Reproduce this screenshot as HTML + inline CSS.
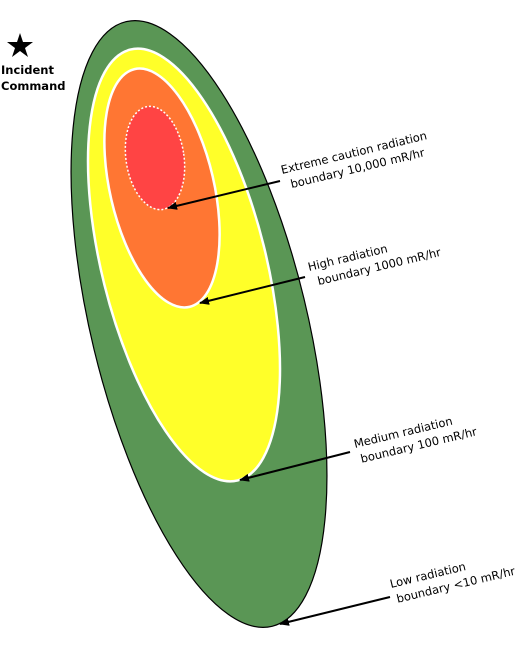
<!DOCTYPE html>
<html><head><meta charset="utf-8"><style>
html,body{margin:0;padding:0;background:#fff;}
svg{display:block;font-family:"DejaVu Sans","Liberation Sans",sans-serif;}
</style></head><body>
<svg width="521" height="650" viewBox="0 0 521 650">
<defs><marker id="ah" markerWidth="10" markerHeight="8" refX="9" refY="4" orient="auto" markerUnits="userSpaceOnUse"><path d="M0,0 L10,4 L0,8 Z" fill="#000"/></marker></defs>
<ellipse cx="199" cy="324" rx="108" ry="311" transform="rotate(-13.6 199 324)" fill="#5a9655" stroke="#000" stroke-width="1.2"/>
<ellipse cx="184" cy="265" rx="82" ry="222" transform="rotate(-14 184 265)" fill="#ffff29" stroke="#fff" stroke-width="2.5"/>
<ellipse cx="162" cy="188" rx="52" ry="122" transform="rotate(-13 162 188)" fill="#ff7633" stroke="#fff" stroke-width="2.5"/>
<ellipse cx="155" cy="158" rx="29" ry="52" transform="rotate(-8.3 155 158)" fill="#ff4444" stroke="#fff" stroke-width="1.5" stroke-dasharray="2,2"/>
<polygon fill="#000" points="20,33 23,42 33,42 25,48 28,57 20,51 12,57 15,48 7,42 17,42"/>
<text x="1" y="74" font-size="11.5" font-weight="bold">Incident</text>
<text x="1" y="90" font-size="11.5" font-weight="bold">Command</text>
<g font-size="11.5" fill="#000">
<line x1="280" y1="181" x2="168" y2="208" stroke="#000" stroke-width="2" marker-end="url(#ah)"/>
<text transform="translate(282,174) rotate(-13.5)">Extreme caution radiation<tspan x="6" dy="16">boundary 10,000 mR/hr</tspan></text>
<line x1="305" y1="277" x2="200" y2="303" stroke="#000" stroke-width="2" marker-end="url(#ah)"/>
<text transform="translate(309,271) rotate(-13.5)">High radiation<tspan x="6" dy="16">boundary 1000 mR/hr</tspan></text>
<line x1="350" y1="452" x2="240" y2="480" stroke="#000" stroke-width="2" marker-end="url(#ah)"/>
<text transform="translate(355,448) rotate(-13.5)">Medium radiation<tspan x="3" dy="16">boundary 100 mR/hr</tspan></text>
<line x1="390" y1="597" x2="280" y2="624" stroke="#000" stroke-width="2" marker-end="url(#ah)"/>
<text transform="translate(391,588) rotate(-13.5)">Low radiation<tspan x="3" dy="16">boundary &lt;10 mR/hr</tspan></text>
</g>
</svg>
</body></html>
